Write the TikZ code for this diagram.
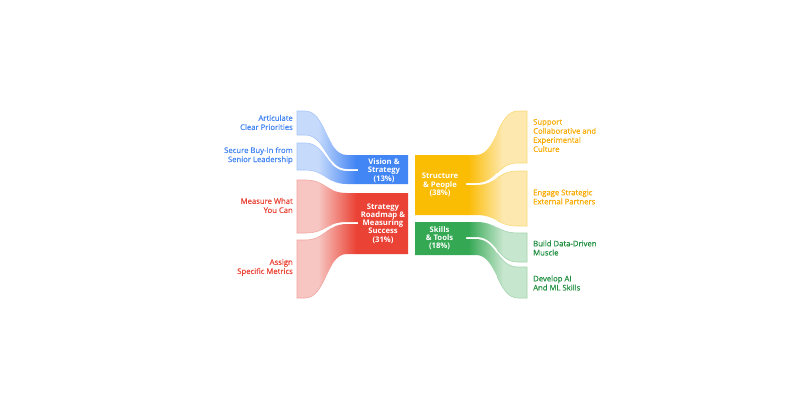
\documentclass[tikz,border=0pt]{standalone}
\usepackage{fontspec}
\setmainfont{Open Sans}
\newfontfamily\labelfont{Open Sans}[FakeBold=0.35]
\usepackage{xcolor}
\usepackage{tikz}

\definecolor{gblue}{HTML}{4285F4}
\definecolor{bluelt}{HTML}{C6DAFC}
\definecolor{blueln}{HTML}{A8C6FA}
\definecolor{gred}{HTML}{EA4335}
\definecolor{redlt}{HTML}{F7C6C2}
\definecolor{redln}{HTML}{F2A6A0}
\definecolor{gyellow}{HTML}{FBBC04}
\definecolor{yellowlt}{HTML}{FDE9B0}
\definecolor{yellowln}{HTML}{FCD877}
\definecolor{ggreen}{HTML}{34A853}
\definecolor{greenlt}{HTML}{C6E6CD}
\definecolor{greenln}{HTML}{A2D5AE}
\definecolor{gyellowtx}{HTML}{F9AB00}
\definecolor{ggreentx}{HTML}{1E8E3E}

% band on the left: left top, left bottom, right top, right bottom
\newcommand{\bandL}[4]{(297,#1) -- (305,#1) .. controls (326,#1) and (326,#3) .. (347,#3) -- (358.5,#3)
  -- (358.5,#4) -- (347,#4) .. controls (326,#4) and (326,#2) .. (305,#2) -- (297,#2) -- cycle}
% band on the right: inner top, inner bottom, outer top, outer bottom
\newcommand{\bandR}[4]{(465.5,#1) -- (476,#1) .. controls (497,#1) and (497,#3) .. (518,#3) -- (527,#3)
  -- (527,#4) -- (518,#4) .. controls (497,#4) and (497,#2) .. (476,#2) -- (465.5,#2) -- cycle}
% block: left, right, top, bottom (same turning sense as the bands)
\newcommand{\block}[4]{(#1,#3) -- (#2,#3) -- (#2,#4) -- (#1,#4) -- cycle}

\begin{document}
\begin{tikzpicture}[
  x=1pt, y=-1pt,
  side/.style={font=\labelfont\fontsize{7.7}{9.1}\selectfont,inner sep=0pt},
  lside/.style={side,anchor=east,align=right},
  rside/.style={side,anchor=west,align=left},
  cat/.style={font=\fontsize{7.7}{8.3}\selectfont\bfseries,text=white,align=center,inner sep=0pt},
  rim/.style={line width=0.6pt}
]
  \useasboundingbox[fill=white] (0,0) rectangle (800,400);

  % Vision & Strategy (blue)
  \begin{scope}
    \clip \bandL{111}{135}{155}{169} \bandL{143}{170}{171}{184} \block{358}{408}{155}{184};
    \fill[bluelt] (290,100) rectangle (318,190);
    \shade[left color=bluelt,right color=gblue] (318,100) rectangle (356,190);
    \fill[gblue] (356,100) rectangle (410,190);
  \end{scope}
  \begin{scope}
    \clip (290,0) rectangle (332,400);
    \draw[rim,blueln] \bandL{111}{135}{155}{169} \bandL{143}{170}{171}{184};
  \end{scope}

  % Strategy Roadmap & Measuring Success (red)
  \begin{scope}
    \clip \bandL{180}{233}{193}{222} \bandL{240}{298}{224}{254} \block{358}{408}{193}{254};
    \fill[redlt] (290,175) rectangle (318,305);
    \shade[left color=redlt,right color=gred] (318,175) rectangle (356,305);
    \fill[gred] (356,175) rectangle (410,305);
  \end{scope}
  \begin{scope}
    \clip (290,0) rectangle (332,400);
    \draw[rim,redln] \bandL{180}{233}{193}{222} \bandL{240}{298}{224}{254};
  \end{scope}

  % Structure & People (yellow)
  \begin{scope}
    \clip \block{415}{466}{155}{215} \bandR{155}{183}{111}{163} \bandR{185}{215}{171}{226};
    \fill[gyellow] (410,100) rectangle (468,230);
    \shade[left color=gyellow,right color=yellowlt] (468,100) rectangle (503,230);
    \fill[yellowlt] (503,100) rectangle (530,230);
  \end{scope}
  \begin{scope}
    \clip (497,0) rectangle (535,400);
    \draw[rim,yellowln] \bandR{155}{183}{111}{163} \bandR{185}{215}{171}{226};
  \end{scope}

  % Skills & Tools (green)
  \begin{scope}
    \clip \block{415}{466}{222}{255} \bandR{222}{237}{233}{262} \bandR{239}{255}{267}{298};
    \fill[ggreen] (410,218) rectangle (468,305);
    \shade[left color=ggreen,right color=greenlt] (468,218) rectangle (503,305);
    \fill[greenlt] (503,218) rectangle (530,305);
  \end{scope}
  \begin{scope}
    \clip (497,0) rectangle (535,400);
    \draw[rim,greenln] \bandR{222}{237}{233}{262} \bandR{239}{255}{267}{298};
  \end{scope}

  % Category labels
  \node[cat] (vision)    at (384,170.5) {Vision \&\\Strategy\\(13\%)};
  \node[cat] (roadmap)   at (383,223.5) {Strategy\\Roadmap \&\\Measuring\\Success\\(31\%)};
  \node[cat] (structure) at (440,185)   {Structure\\\& People\\(38\%)};
  \node[cat] (skills)    at (439.5,238) {Skills\\\& Tools\\(18\%)};

  % Left labels
  \node[lside,text=gblue] (articulate) at (293,122.5) {Articulate\\Clear Priorities};
  \node[lside,text=gblue] (buyin)      at (293,155.5) {Secure Buy-In from\\Senior Leadership};
  \node[lside,text=gred]  (measure)    at (293,205.5) {Measure What\\You Can};
  \node[lside,text=gred]  (assign)     at (293,267.5) {Assign\\Specific Metrics};

  % Right labels
  \node[rside,text=gyellowtx] (support) at (533,135.5) {Support\\Collaborative and\\Experimental\\Culture};
  \node[rside,text=gyellowtx] (engage)  at (533,197)   {Engage Strategic\\External Partners};
  \node[rside,text=ggreentx]  (build)   at (533,248)   {Build Data-Driven\\Muscle};
  \node[rside,text=ggreentx]  (develop) at (533,283)   {Develop AI\\And ML Skills};
\end{tikzpicture}
\end{document}
